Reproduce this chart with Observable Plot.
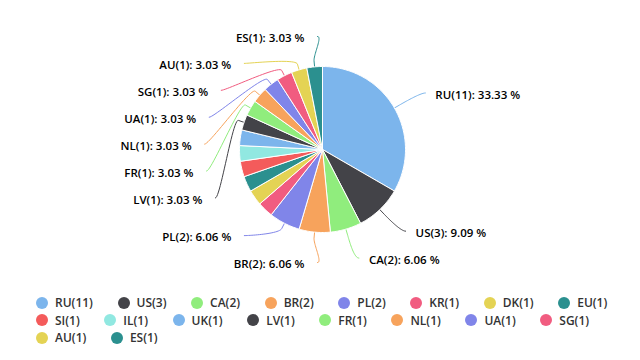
<!DOCTYPE html>
<html><head><meta charset="utf-8">
<script src="https://cdn.jsdelivr.net/npm/d3@7"></script>
<script src="https://cdn.jsdelivr.net/npm/@observablehq/plot@0.6"></script>
<style>
body{margin:0;background:#fff;font-family:"Open Sans",sans-serif;}
#wrap{position:relative;width:640px;height:360px;overflow:hidden;background:#fff}
#chart{position:absolute;left:0;top:0}
#legend{position:absolute;left:36px;top:294px;width:584px;display:flex;flex-wrap:wrap;column-gap:24.6px;font-size:12px;font-weight:600;color:#333;line-height:17.5px}
.item{display:flex;align-items:center;white-space:nowrap}
.sw{width:12px;height:12px;border-radius:50%;margin-right:7px;display:inline-block}
</style></head><body><div id="wrap"><div id="chart"></div><div id="legend"></div></div>
<script>
const names  = ["RU","US","CA","BR","PL","KR","DK","EU","SI","IL","UK","LV","FR","NL","UA","SG","AU","ES"];
const counts = [11,3,2,2,2,1,1,1,1,1,1,1,1,1,1,1,1,1];
const colors = ["#7cb5ec","#434348","#90ed7d","#f7a35c","#8085e9","#f15c80","#e4d354","#2b908f","#f45b5b","#91e8e1",
                "#7cb5ec","#434348","#90ed7d","#f7a35c","#8085e9","#f15c80","#e4d354","#2b908f"];

// layout
const W = 640, H = 290;
const cx = 322, cy = 149, r = 83, dist = 30, R = r + dist, slot = 26.9, pad = 5;

const total = d3.sum(counts);
let acc = 0;
const slices = names.map((name, i) => {
  const a0 = acc / total * 2 * Math.PI;
  acc += counts[i];
  const a1 = acc / total * 2 * Math.PI;
  return {name, value: counts[i], a0, a1, mid: (a0 + a1) / 2, pct: counts[i] / total * 100};
});

// slice polygons
const polyPts = [];
for (const s of slices) {
  polyPts.push({name: s.name, x: 0, y: 0});
  const n = Math.max(2, Math.ceil((s.a1 - s.a0) / (Math.PI / 180)));
  for (let k = 0; k <= n; k++) {
    const a = s.a0 + (s.a1 - s.a0) * k / n;
    polyPts.push({name: s.name, x: r * Math.sin(a), y: -r * Math.cos(a)});
  }
  polyPts.push({name: s.name, x: 0, y: 0});
}

// label distribution (Highcharts-like)
const bandTop = -R - slot / 2, bandLen = 2 * R + slot;
function distribute(boxes) {
  boxes.sort((a, b) => a.target - b.target);
  let groups = boxes.map(b => ({size: b.size, targets: [b.target], members: [b], align: 0.5}));
  let overlapping = true;
  while (overlapping) {
    for (const g of groups) {
      const c = (Math.min(...g.targets) + Math.max(...g.targets)) / 2;
      g.pos = Math.min(Math.max(0, c - g.size * g.align), bandLen - g.size);
    }
    overlapping = false;
    let i = groups.length;
    while (i--) {
      if (i > 0 && groups[i - 1].pos + groups[i - 1].size > groups[i].pos) {
        const p = groups[i - 1];
        p.size += groups[i].size;
        p.targets = p.targets.concat(groups[i].targets);
        p.members = p.members.concat(groups[i].members);
        if (p.pos + p.size > bandLen) p.pos = bandLen - p.size;
        groups.splice(i, 1);
        overlapping = true;
      }
    }
  }
  for (const g of groups) {
    let p = g.pos;
    for (const m of g.members) { m.center = bandTop + p + m.size / 2; p += m.size; }
  }
}

const rightHalf = slices.filter(s => s.mid <= Math.PI);
const leftHalf = slices.filter(s => s.mid > Math.PI).reverse();
const shown = [];
for (const [half, left] of [[rightHalf, false], [leftHalf, true]]) {
  const boxes = half.map(s => ({s, left, size: slot, rank: s.value, target: -R * Math.cos(s.mid) - bandTop}));
  const ranked = boxes.slice().sort((a, b) => b.rank - a.rank);
  let tot = 0; const keep = [];
  for (const b of ranked) { if (tot + b.size <= bandLen) { tot += b.size; keep.push(b); } else break; }
  distribute(keep);
  shown.push(...keep);
}

const labels = [], conn = [];
for (const b of shown) {
  const s = b.s, sign = b.left ? -1 : 1;
  const yc = b.center;
  const yy = Math.max(-R, Math.min(R, yc));
  const xa = sign * (Math.sqrt(R * R - yy * yy) + pad);
  labels.push({name: s.name, left: b.left, x: xa + (b.left ? -13 : 10), y: yc,
               text: `${s.name}(${s.value}): ${s.pct.toFixed(2)} %`});
  const T = {x: r * Math.sin(s.mid), y: -r * Math.cos(s.mid)};
  const B = {x: (r + 6) * Math.sin(s.mid), y: -(r + 6) * Math.cos(s.mid)};
  const P0 = {x: xa, y: yc}, P1 = {x: xa - sign * 5, y: yc}, P2 = {x: 2 * B.x - T.x, y: 2 * B.y - T.y};
  for (let k = 0; k <= 24; k++) {
    const t = k / 24, u = 1 - t;
    conn.push({name: s.name,
      x: u*u*u*P0.x + 3*u*u*t*P1.x + 3*u*t*t*P2.x + t*t*t*B.x,
      y: u*u*u*P0.y + 3*u*u*t*P1.y + 3*u*t*t*P2.y + t*t*t*B.y});
  }
  conn.push({name: s.name, x: T.x, y: T.y});
}

const textOpts = {x: "x", y: "y", text: "text", fontSize: 11.5, fontWeight: 600, fill: "#000", dy: 2,
                  fontFamily: "Open Sans"};
const chart = Plot.plot({
  width: W, height: H, margin: 0,
  style: {fontFamily: "Open Sans", background: "#fff"},
  x: {domain: [-cx, W - cx], range: [0, W], axis: null},
  y: {domain: [-cy, H - cy], range: [0, H], axis: null},
  color: {domain: names, range: colors},
  marks: [
    Plot.line(conn, {x: "x", y: "y", z: "name", stroke: "name", strokeWidth: 1, curve: "linear"}),
    Plot.line(polyPts, {x: "x", y: "y", z: "name", fill: "name", stroke: "#fff", strokeWidth: 1, strokeLinejoin: "round"}),
    Plot.text(labels.filter(d => d.left), {...textOpts, textAnchor: "end"}),
    Plot.text(labels.filter(d => !d.left), {...textOpts, textAnchor: "start"})
  ]
});
document.getElementById("chart").appendChild(chart);

const legend = d3.select("#legend");
slices.forEach((s, i) => {
  const it = legend.append("div").attr("class", "item");
  it.append("span").attr("class", "sw").style("background", colors[i]);
  it.append("span").text(`${s.name}(${s.value})`);
});
</script>
</body></html>
